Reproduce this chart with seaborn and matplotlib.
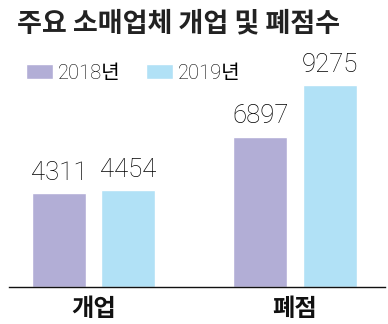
import matplotlib
matplotlib.use("Agg")
import matplotlib.pyplot as plt
import seaborn as sns
import pandas as pd

categories = ["개업", "폐점"]
years = ["2018년", "2019년"]
values_2018 = [4311, 6897]
values_2019 = [4454, 9275]
title = "주요 소매업체 개업 및 폐점수"

colors = ["#b2aed6", "#b1e1f6"]

df = pd.DataFrame({
    "cat": categories * 2,
    "year": [years[0]] * 2 + [years[1]] * 2,
    "value": values_2018 + values_2019,
})

sns.set_theme(style="white")
plt.rcParams["font.family"] = ["Noto Sans CJK KR", "DejaVu Sans"]

fig = plt.figure(figsize=(3.88, 3.24), dpi=100)
ax = fig.add_axes([9 / 388, 1 - 287 / 324, 376 / 388, (287 - 60) / 324])

sns.barplot(data=df, x="cat", y="value", hue="year", palette=colors,
            width=0.69, gap=0.22, order=categories, hue_order=years,
            ax=ax, saturation=1, legend=True)

ax.set_xlim(-0.42, 1.447)
ax.set_ylim(0, 9275 * 227 / 202)

for cont in ax.containers:
    ax.bar_label(cont, labels=[f"{int(v)}" for v in cont.datavalues],
                 padding=6, fontsize=18.5, color="#000000",
                 fontfamily="Roboto", fontweight="light")

for s in ["top", "left", "right"]:
    ax.spines[s].set_visible(False)
ax.spines["bottom"].set_color("#111111")
ax.spines["bottom"].set_linewidth(1.0)
ax.set_yticks([])
ax.set_xlabel("")
ax.set_ylabel("")
ax.tick_params(axis="x", length=0, pad=7)
for lab in ax.get_xticklabels():
    lab.set_fontsize(17.5)
    lab.set_fontweight("bold")
    lab.set_color("#111111")

handles, labels = ax.get_legend_handles_labels()
ax.get_legend().remove()
leg = fig.legend(handles, labels, loc="center left",
                 bbox_to_anchor=(26 / 388, 1 - 73 / 324), ncol=2, frameon=False,
                 prop={"family": ["Roboto", "Noto Sans CJK KR"], "size": 14.5,
                       "weight": "light"},
                 handlelength=1.35, handleheight=0.8, handletextpad=0.25,
                 columnspacing=1.25, borderpad=0, borderaxespad=0)
for t in leg.get_texts():
    t.set_color("#000000")

fig.text(17 / 388, 1 - 23 / 324, title, fontsize=19.5, fontweight="bold",
         color="#222222", va="center", ha="left")

fig.savefig("out.png", dpi=100)
